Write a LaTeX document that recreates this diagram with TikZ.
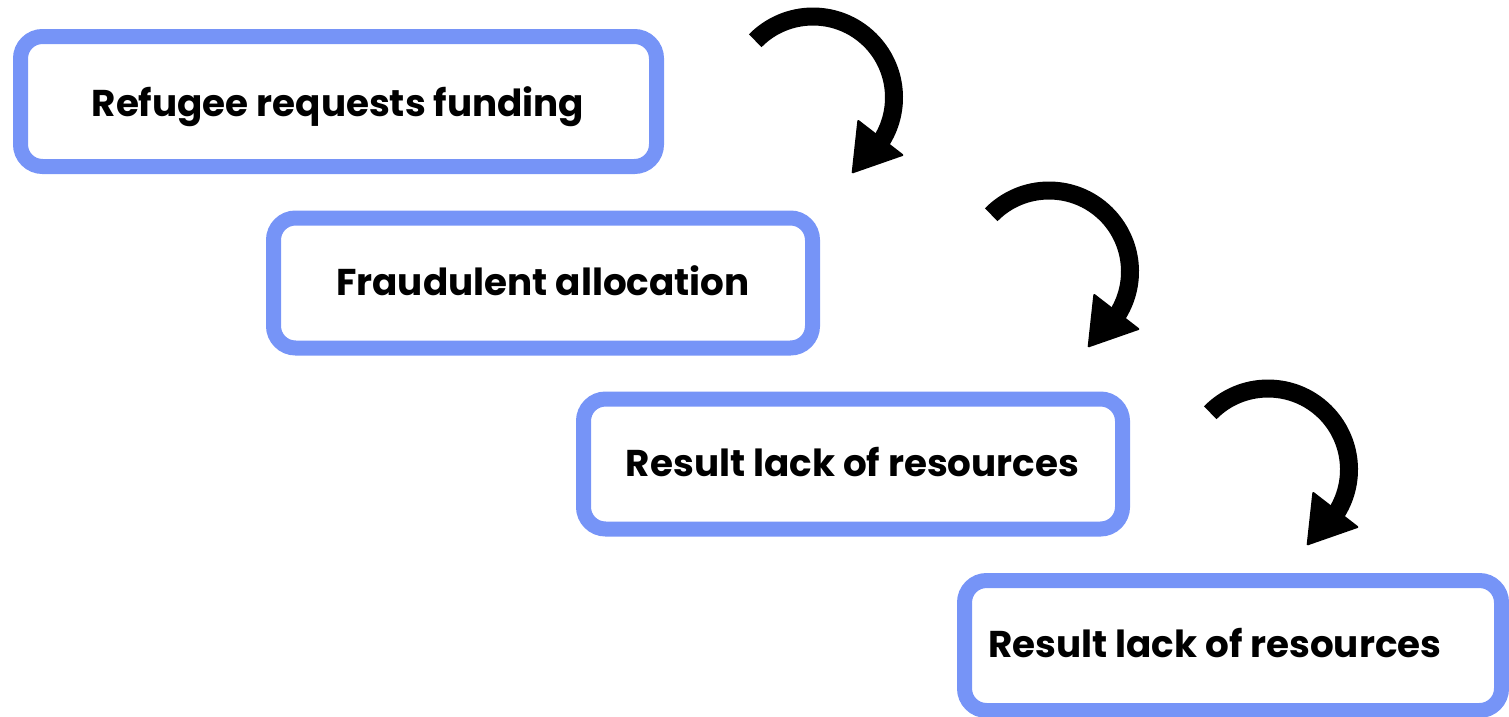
\documentclass[tikz,border=0pt]{standalone}
\usepackage{fontspec}
\newfontfamily\pop{Poppins}
\definecolor{boxblue}{RGB}{118,148,247}
\begin{document}
\begin{tikzpicture}[x=1pt,y=-1pt,
  box/.style={draw=boxblue, line width=15pt, rounded corners=22pt, minimum width=#1, minimum height=130pt, inner sep=0pt},
  lbl/.style={font={\pop\bfseries\fontsize{37.3}{41}\selectfont}, inner sep=0pt, anchor=base},
  curve/.style={line width=18pt, line cap=butt},
  head/.style={fill=black, draw=black, line width=2pt, line join=round}]
\useasboundingbox (0,0) rectangle (1509,716);
% boxes
\node[box=636pt] (b1) at (338.5,101.5) {};
\node[box=539pt] (b2) at (543,283) {};
\node[box=539pt] (b3) at (853,464) {};
\node[box=537pt] (b4) at (1233,645.5) {};
% labels
\node[lbl] (t1) at (338,116) {Refugee requests funding};
\node[lbl] (t2) at (543,295.7) {Fraudulent allocation};
\node[lbl] (t3) at (852.5,476.7) {Result lack of resources};
\node[lbl, anchor=base west] (t4) at (988,657.3) {Result lack of resources};
% curved arrows
\foreach \dx/\dy in {0/0, 236/174, 455/372}{
  \begin{scope}[shift={(\dx,\dy)}]
    \coordinate (c) at (813,97.5);
    \draw[curve] (c) ++(-135.5:81) arc[start angle=-135.5, end angle=34, radius=81];
    \draw[head] (858.3,121) -- (902.3,155) -- (852.7,172.3) -- cycle;
  \end{scope}
}
\end{tikzpicture}
\end{document}
